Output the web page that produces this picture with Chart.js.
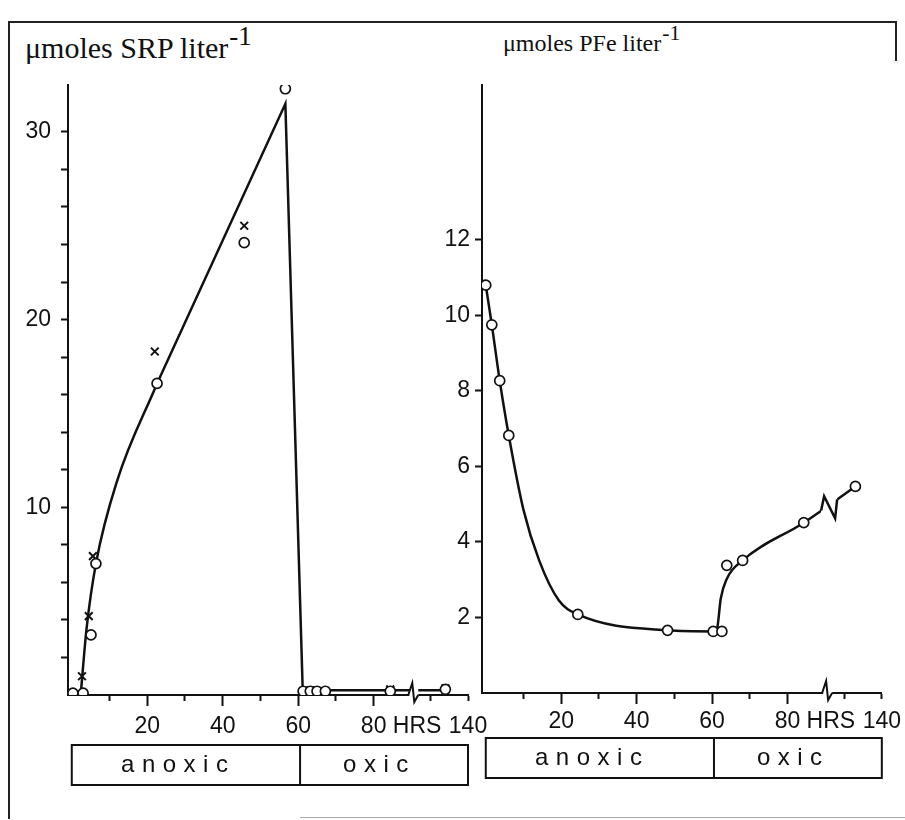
<!DOCTYPE html>
<html>
<head>
<meta charset="utf-8">
<script src="https://cdn.jsdelivr.net/npm/chart.js@4.4.1/dist/chart.umd.min.js"></script>
<style>
  html, body { margin: 0; padding: 0; background: #fff; }
  #page { position: relative; width: 905px; height: 820px; overflow: hidden; background: #fff; }
  canvas { position: absolute; left: 0; top: 0; }
  .rule { position: absolute; background: #222; }
  .title { position: absolute; font-family: 'Liberation Serif', 'Times New Roman', serif; color: #111; line-height: 1; white-space: nowrap; }
  .title sup { font-size: 0.9em; vertical-align: 0.5em; line-height: 0; margin-left: 1px; }
  #title-srp { left: 25px; top: 33px; font-size: 30px; }
  #title-pfe { left: 503px; top: 31px; font-size: 24px; }
</style>
</head>
<body>
<div id="page">
  <div class="rule" style="left:8px; top:21px; width:889px; height:2px;"></div>
  <div class="rule" style="left:8px; top:21px; width:2px; height:798px;"></div>
  <div class="rule" style="left:895px; top:21px; width:2px; height:40px;"></div>
  <div class="rule" style="left:300px; top:817px; width:605px; height:1px; background:#aaa;"></div>

  <div class="title" id="title-srp">μmoles SRP liter<sup>-1</sup></div>
  <div class="title" id="title-pfe">μmoles PFe liter<sup>-1</sup></div>

  <canvas id="srpChart" width="905" height="820"></canvas>
  <canvas id="pfeChart" width="905" height="820"></canvas>
</div>

<script>
// --- Data (time in hours, concentration in µmol per liter) ---
// the hour axis is broken between these two values
const HOURS_SKIPPED_FROM = 90;
const HOURS_SKIPPED_TO = 125;

// SRP: two replicates (circles and crosses)
const SRP_CIRCLE_HRS = [0.3, 3.0, 5.1, 6.4, 22.6, 45.7, 56.6, 61.3, 63.2, 65.0, 67.2, 84.4, 134];
const SRP_CIRCLE_VAL = [0.1, 0.1, 3.2, 7.0, 16.6, 24.1, 32.3, 0.2, 0.2, 0.2, 0.2, 0.2, 0.3];
const SRP_CROSS_HRS = [2.7, 4.5, 5.6, 22.0, 45.7, 63.2, 84.4, 134];
const SRP_CROSS_VAL = [1.0, 4.2, 7.4, 18.3, 25.0, 0.25, 0.3, 0.35];
// hand drawn fit: smooth rise, then straight segments
const SRP_CURVE_HRS = [2.4, 3.9, 6.4, 12, 22.6];
const SRP_CURVE_VAL = [0.1, 3.5, 7.0, 11.4, 16.6];
const SRP_LINE_HRS = [22.6, 56.6, 61.2, 134];
const SRP_LINE_VAL = [16.6, 31.5, 0.25, 0.25];

// PFe
const PFE_CIRCLE_HRS = [0, 1.6, 3.7, 6.1, 24.4, 48.2, 60.3, 62.6, 63.9, 68.1, 84.3, 133];
const PFE_CIRCLE_VAL = [10.8, 9.75, 8.27, 6.82, 2.08, 1.66, 1.63, 1.63, 3.38, 3.51, 4.51, 5.47];
const PFE_CURVE_HRS = [0, 1.6, 3.7, 6.1, 10, 14.2, 19.4, 24.4, 48.2, 60.3, 61.3, 62.3, 63.8, 68.1, 84.3, 133];
const PFE_CURVE_VAL = [10.8, 9.75, 8.27, 6.82, 4.85, 3.5, 2.45, 2.08, 1.66, 1.63, 1.7, 2.5, 3.0, 3.51, 4.51, 5.47];

// --- Axes ---
const HOUR_TICKS = [10, 20, 30, 40, 50, 60, 70, 80, 130, 140];
const HOUR_TICK_LABELS = ['', '20', '', '40', '', '60', '', '80', '', '140'];
const HOUR_UNIT = 'HRS';
const SRP_Y_TICKS = [2, 4, 6, 8, 10, 12, 14, 16, 18, 20, 22, 24, 26, 28, 30];
const SRP_Y_LABELS = [10, 20, 30];
const PFE_Y_TICKS = [2, 4, 6, 8, 10, 12];
const PFE_Y_LABELS = [2, 4, 6, 8, 10, 12];

// --- Phases ---
const PHASE_NAMES = ['anoxic', 'oxic'];
const PHASE_BOUNDS_HRS = [0, 60.5, 140];

const INK = '#111';
const SANS = "'Liberation Sans', Arial, sans-serif";
const AXIS_FONT = { family: SANS, size: 23 };

// map real hours onto the broken axis
function hx(h) {
    return h >= HOURS_SKIPPED_TO ? h - (HOURS_SKIPPED_TO - HOURS_SKIPPED_FROM) : h;
}
function pts(hrs, vals) {
    return hrs.map((h, i) => ({ x: hx(h), y: vals[i] }));
}

// tick list for the hour axis, plus the unit label between 80 and 140
function hourTicks() {
    const list = HOUR_TICKS.map((h, i) => ({ value: hx(h), label: HOUR_TICK_LABELS[i], major: HOUR_TICK_LABELS[i] !== '' && h < HOURS_SKIPPED_FROM }));
    const unitAt = hx(80) + (hx(140) - hx(80)) * 0.46;
    list.splice(8, 0, { value: unitAt, label: HOUR_UNIT, unit: true });
    return list;
}

function xScale(opts) {
    const ticksList = hourTicks();
    return {
        type: 'linear',
        min: -1,
        max: hx(140),
        afterBuildTicks: (scale) => { scale.ticks = ticksList.map(t => ({ value: t.value })); },
        afterFit: (scale) => { scale.height = 40; },
        border: { display: true, color: INK, width: 2 },
        grid: {
            display: true,
            drawOnChartArea: false,
            drawTicks: true,
            tickLength: 11,
            tickWidth: 2,
            tickColor: (ctx) => (ticksList[ctx.index] && ticksList[ctx.index].unit ? 'rgba(0,0,0,0)' : INK),
            tickBorderDash: (ctx) => (ticksList[ctx.index] && ticksList[ctx.index].major ? [] : [5, 40])
        },
        ticks: {
            autoSkip: false,
            maxRotation: 0,
            color: INK,
            font: AXIS_FONT,
            padding: opts.labelPad,
            callback: (value, index) => (ticksList[index] ? ticksList[index].label : '')
        }
    };
}

function yScale(max, tickVals, labelVals, width, pad) {
    return {
        type: 'linear',
        min: 0,
        max: max,
        afterBuildTicks: (scale) => { scale.ticks = tickVals.map(v => ({ value: v })); },
        afterFit: (scale) => { scale.width = width; },
        border: { display: true, color: INK, width: 2 },
        grid: { display: true, drawOnChartArea: false, tickLength: 7, tickWidth: 2, tickColor: INK },
        ticks: {
            color: INK,
            font: AXIS_FONT,
            padding: pad,
            callback: (value) => (labelVals.includes(value) ? String(value) : '')
        }
    };
}

// --- Plugins: phase bar under the axis, break marks ---
const phaseBar = {
    id: 'phaseBar',
    afterDraw(chart, args, opts) {
        const { ctx } = chart;
        const x = chart.scales.x;
        const top = x.top - 2 + opts.offset;
        const h = 40;
        ctx.save();
        ctx.strokeStyle = INK;
        ctx.lineWidth = 2;
        ctx.fillStyle = INK;
        ctx.font = '24px ' + SANS;
        ctx.textBaseline = 'middle';
        ctx.textAlign = 'left';
        const left = x.getPixelForValue(hx(PHASE_BOUNDS_HRS[0]));
        const right = x.getPixelForValue(hx(PHASE_BOUNDS_HRS[PHASE_BOUNDS_HRS.length - 1]));
        ctx.strokeRect(left, top, right - left, h);
        PHASE_NAMES.forEach((name, i) => {
            const a = x.getPixelForValue(hx(PHASE_BOUNDS_HRS[i]));
            const b = x.getPixelForValue(hx(PHASE_BOUNDS_HRS[i + 1]));
            if (i > 0) {
                ctx.beginPath();
                ctx.moveTo(a, top);
                ctx.lineTo(a, top + h);
                ctx.stroke();
            }
            // spaced out letters
            const gap = 7.5;
            const chars = name.split('');
            const w = chars.reduce((s, c) => s + ctx.measureText(c).width, 0) + gap * (chars.length - 1);
            let cx = a + (b - a) * 0.45 - w / 2;
            chars.forEach(c => {
                ctx.fillText(c, cx, top + h / 2);
                cx += ctx.measureText(c).width + gap;
            });
        });
        ctx.restore();
    }
};

const axisBreak = {
    id: 'axisBreak',
    afterDraw(chart, args, opts) {
        const { ctx } = chart;
        const x = chart.scales.x;
        const y = chart.scales.y;
        const bv = HOURS_SKIPPED_FROM + 0.5;
        const bx = x.getPixelForValue(bv);
        const ay = y.bottom;
        ctx.save();
        ctx.strokeStyle = INK;
        ctx.lineWidth = 2;
        ctx.lineJoin = 'miter';
        // axis
        ctx.fillStyle = '#fff';
        ctx.fillRect(bx - 4, ay - 8, 9, 11);
        ctx.beginPath();
        ctx.moveTo(bx - 5, ay);
        ctx.lineTo(bx - 1, ay - 12);
        ctx.lineTo(bx + 1, ay + 7);
        ctx.lineTo(bx + 5, ay);
        ctx.stroke();
        // fitted line
        const data = chart.data.datasets[opts.lineIndex].data;
        let i = 0;
        while (i < data.length - 2 && data[i + 1].x < bv) i++;
        const p0 = data[i], p1 = data[i + 1];
        const px0 = x.getPixelForValue(p0.x), py0 = y.getPixelForValue(p0.y);
        const px1 = x.getPixelForValue(p1.x), py1 = y.getPixelForValue(p1.y);
        const lineAt = (px) => py0 + (py1 - py0) * (px - px0) / (px1 - px0);
        const py = lineAt(bx);
        if (py < ay - 16) {
            ctx.fillRect(bx - 6, py - 16, 16, 32);
            ctx.lineWidth = 2.5;
            ctx.beginPath();
            ctx.moveTo(bx - 6, lineAt(bx - 6));
            ctx.lineTo(bx - 3, py - 10);
            ctx.lineTo(bx + 8, py + 12);
            ctx.lineTo(bx + 10, lineAt(bx + 10));
            ctx.stroke();
        }
        ctx.restore();
    }
};

const circleStyle = { showLine: false, pointStyle: 'circle', pointRadius: 5, pointBorderWidth: 1.7, pointBackgroundColor: '#fff', pointBorderColor: INK };
const crossStyle = { showLine: false, pointStyle: 'crossRot', pointRadius: 5.5, pointBorderWidth: 2, pointBorderColor: INK };
const lineStyle = { pointRadius: 0, borderColor: INK, borderWidth: 2.5, fill: false };

function baseOptions(padding, yCfg, xOpts, breakLine, barOffset) {
    return {
        responsive: false,
        animation: false,
        devicePixelRatio: 1,
        layout: { padding: padding },
        plugins: {
            legend: { display: false },
            tooltip: { enabled: false },
            phaseBar: { offset: barOffset },
            axisBreak: { lineIndex: breakLine }
        },
        scales: { x: xScale(xOpts), y: yCfg }
    };
}

// --- SRP chart ---
new Chart(document.getElementById('srpChart'), {
    type: 'scatter',
    data: {
        datasets: [
            { ...circleStyle, data: pts(SRP_CIRCLE_HRS, SRP_CIRCLE_VAL) },
            { ...crossStyle, data: pts(SRP_CROSS_HRS, SRP_CROSS_VAL) },
            { ...lineStyle, showLine: true, cubicInterpolationMode: 'monotone', data: pts(SRP_CURVE_HRS, SRP_CURVE_VAL) },
            { ...lineStyle, showLine: true, tension: 0, data: pts(SRP_LINE_HRS, SRP_LINE_VAL) }
        ]
    },
    options: baseOptions(
        { left: 18, top: 85, right: 437, bottom: 85 },
        yScale(32.5, SRP_Y_TICKS, SRP_Y_LABELS, 50, 10),
        { labelPad: 7 },
        3,
        52
    ),
    plugins: [phaseBar, axisBreak]
});

// --- PFe chart ---
new Chart(document.getElementById('pfeChart'), {
    type: 'scatter',
    data: {
        datasets: [
            { ...circleStyle, data: pts(PFE_CIRCLE_HRS, PFE_CIRCLE_VAL) },
            { ...lineStyle, showLine: true, cubicInterpolationMode: 'monotone', data: pts(PFE_CURVE_HRS, PFE_CURVE_VAL) }
        ]
    },
    options: baseOptions(
        { left: 442, top: 85, right: 18, bottom: 87 },
        yScale(16.1, PFE_Y_TICKS, PFE_Y_LABELS, 40, 5),
        { labelPad: 4 },
        1,
        47
    ),
    plugins: [phaseBar, axisBreak]
});
</script>
</body>
</html>
